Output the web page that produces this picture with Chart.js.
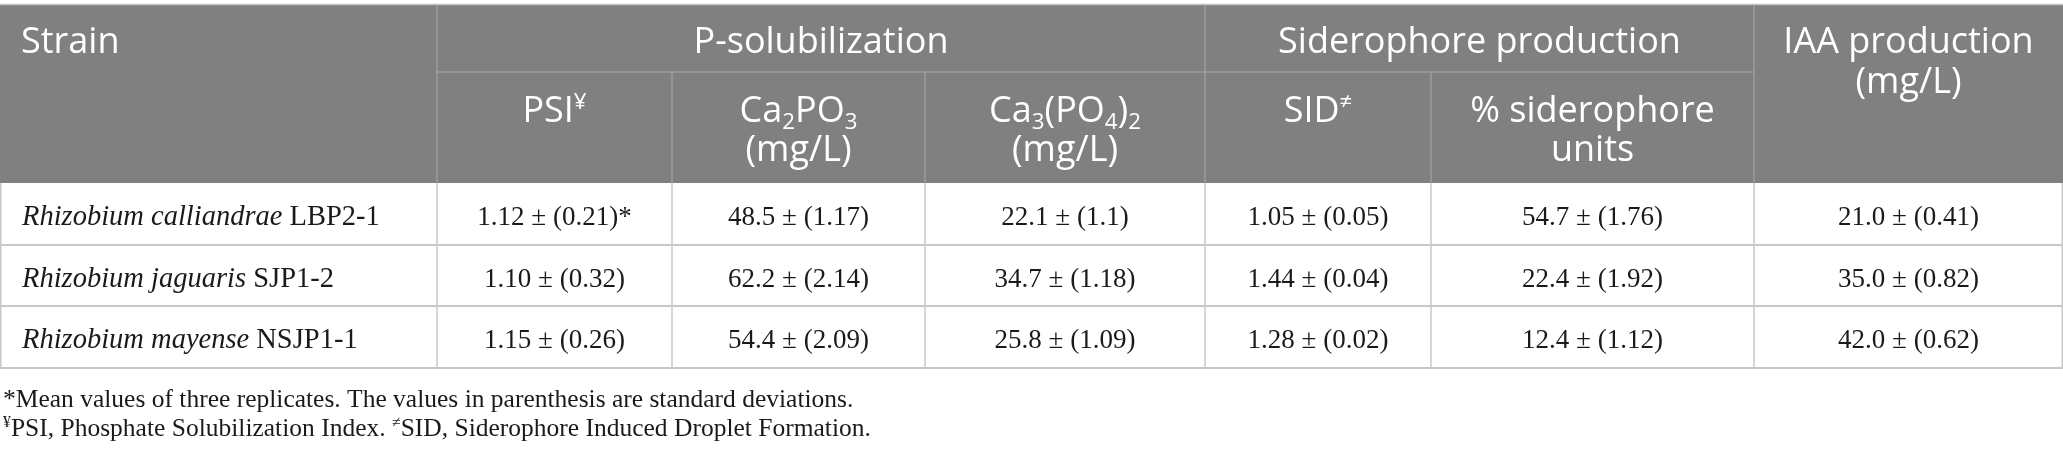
<!DOCTYPE html>
<html><head><meta charset="utf-8">
<script src="https://cdn.jsdelivr.net/npm/chart.js@4.4.1/dist/chart.umd.min.js"></script>
<style>html,body{margin:0;padding:0;background:#fff;overflow:hidden}#wrap{position:relative;width:2063px;height:457px}</style>
</head><body><div id="wrap"><canvas id="c"></canvas></div>
<script>
// ---------- data ----------
const strainGenus = ['Rhizobium calliandrae', 'Rhizobium jaguaris', 'Rhizobium mayense'];
const strainCode  = ['LBP2-1', 'SJP1-2', 'NSJP1-1'];
const psiMean   = [1.12, 1.10, 1.15];
const psiSd     = ['0.21', '0.32', '0.26'];
const ca2Mean   = [48.5, 62.2, 54.4];
const ca2Sd     = ['1.17', '2.14', '2.09'];
const ca3Mean   = [22.1, 34.7, 25.8];
const ca3Sd     = ['1.1', '1.18', '1.09'];
const sidMean   = [1.05, 1.44, 1.28];
const sidSd     = ['0.05', '0.04', '0.02'];
const pctMean   = [54.7, 22.4, 12.4];
const pctSd     = ['1.76', '1.92', '1.12'];
const iaaMean   = [21.0, 35.0, 42.0];
const iaaSd     = ['0.41', '0.82', '0.62'];
const groupLabels = ['Strain', 'P-solubilization', 'Siderophore production'];
const footnote1 = '*Mean values of three replicates. The values in parenthesis are standard deviations.';
const footnote2a = 'PSI, Phosphate Solubilization Index. ';
const footnote2b = 'SID, Siderophore Induced Droplet Formation.';

// ---------- layout (table units, mapped through chart scales) ----------
const W = 2063, H = 457;
const colEdges = [0, 437, 672, 925, 1205, 1431, 1754, 2063];
const hdrTop = 5, hdrMid = 72, hdrBot = 183;
const rowEdges = [183, 245, 306, 368];
const SANS = '"Open Sans", "Noto Sans", sans-serif';
const SERIF = '"Liberation Serif", "DejaVu Serif", serif';

function drawRich(ctx, segs, x, y, align, size, family, color) {
  const parts = segs.map(s => {
    const sz = s.s ? size * 0.62 : size;
    const font = (s.i ? 'italic ' : '') + sz + 'px ' + family;
    ctx.font = font;
    return { t: s.t, font, w: ctx.measureText(s.t).width, dy: s.s === 'sub' ? size * 0.2 : (s.s === 'sup' ? -size * 0.36 : 0) };
  });
  const total = parts.reduce((a, p) => a + p.w, 0);
  let cx = align === 'center' ? x - total / 2 : x;
  ctx.fillStyle = color;
  ctx.textAlign = 'left';
  ctx.textBaseline = 'alphabetic';
  for (const p of parts) { ctx.font = p.font; ctx.fillText(p.t, cx, y + p.dy); cx += p.w; }
}

const tablePlugin = {
  id: 'tableDraw',
  afterDraw(chart) {
    const ctx = chart.ctx, xs = chart.scales.x, ys = chart.scales.y;
    const X = v => xs.getPixelForValue(v), Y = v => ys.getPixelForValue(v);
    const mid = (a, b) => (X(colEdges[a]) + X(colEdges[b])) / 2;
    ctx.save();
    // header background
    ctx.fillStyle = '#808080';
    ctx.fillRect(X(0), Y(hdrTop), X(W) - X(0), Y(hdrBot) - Y(hdrTop));
    // top border
    ctx.strokeStyle = '#c4c4c4'; ctx.lineWidth = 1.5;
    ctx.beginPath(); ctx.moveTo(X(0), Y(4.5)); ctx.lineTo(X(W), Y(4.5)); ctx.stroke();
    // header lines
    const line = (x1, y1, x2, y2) => { ctx.beginPath(); ctx.moveTo(X(x1), Y(y1)); ctx.lineTo(X(x2), Y(y2)); ctx.stroke(); };
    ctx.strokeStyle = '#9b9b9b'; ctx.lineWidth = 1.5;
    [1, 4, 6].forEach(i => line(colEdges[i], hdrTop, colEdges[i], hdrBot));
    [2, 3, 5].forEach(i => line(colEdges[i], hdrMid, colEdges[i], hdrBot));
    line(colEdges[1], hdrMid, colEdges[6], hdrMid);
    // body lines
    ctx.strokeStyle = '#c8c8c8'; ctx.lineWidth = 1.5;
    colEdges.forEach((e, i) => {
      const xx = i === 0 ? 0.75 : (i === colEdges.length - 1 ? W - 0.75 : e);
      line(xx, rowEdges[0], xx, rowEdges[3]);
    });
    ctx.lineWidth = 2;
    rowEdges.slice(1).forEach(r => line(0, r, W, r));

    // header text
    const hs = 36, wc = '#ffffff';
    drawRich(ctx, [{ t: groupLabels[0] }], X(21), Y(53), 'left', hs, SANS, wc);
    drawRich(ctx, [{ t: groupLabels[1] }], mid(1, 4), Y(53), 'center', hs, SANS, wc);
    drawRich(ctx, [{ t: groupLabels[2] }], mid(4, 6), Y(53), 'center', hs, SANS, wc);
    drawRich(ctx, [{ t: 'IAA production' }], mid(6, 7), Y(53), 'center', hs, SANS, wc);
    drawRich(ctx, [{ t: '(mg/L)' }], mid(6, 7), Y(93), 'center', hs, SANS, wc);
    drawRich(ctx, [{ t: 'PSI' }, { t: '¥', s: 'sup' }], mid(1, 2), Y(122), 'center', hs, SANS, wc);
    drawRich(ctx, [{ t: 'Ca' }, { t: '2', s: 'sub' }, { t: 'PO' }, { t: '3', s: 'sub' }], mid(2, 3), Y(122), 'center', hs, SANS, wc);
    drawRich(ctx, [{ t: '(mg/L)' }], mid(2, 3), Y(161), 'center', hs, SANS, wc);
    drawRich(ctx, [{ t: 'Ca' }, { t: '3', s: 'sub' }, { t: '(PO' }, { t: '4', s: 'sub' }, { t: ')' }, { t: '2', s: 'sub' }], mid(3, 4), Y(122), 'center', hs, SANS, wc);
    drawRich(ctx, [{ t: '(mg/L)' }], mid(3, 4), Y(161), 'center', hs, SANS, wc);
    drawRich(ctx, [{ t: 'SID' }, { t: '≠', s: 'sup' }], mid(4, 5), Y(122), 'center', hs, SANS, wc);
    drawRich(ctx, [{ t: '% siderophore' }], mid(5, 6), Y(122), 'center', hs, SANS, wc);
    drawRich(ctx, [{ t: 'units' }], mid(5, 6), Y(161), 'center', hs, SANS, wc);

    // body text
    const bs = 27, ns = 28.5, bc = '#1a1a1a';
    const cols = [[psiMean, psiSd, 2], [ca2Mean, ca2Sd, 1], [ca3Mean, ca3Sd, 1], [sidMean, sidSd, 2], [pctMean, pctSd, 1], [iaaMean, iaaSd, 1]];
    for (let r = 0; r < strainGenus.length; r++) {
      const by = Y((rowEdges[r] + rowEdges[r + 1]) / 2 + 11);
      drawRich(ctx, [{ t: strainGenus[r] + ' ', i: true }, { t: strainCode[r] }], X(22), by, 'left', ns, SERIF, bc);
      cols.forEach((c, k) => {
        let s = c[0][r].toFixed(c[2]) + ' ± (' + c[1][r] + ')';
        if (k === 0 && r === 0) s += '*';
        drawRich(ctx, [{ t: s }], mid(k + 1, k + 2), by, 'center', bs, SERIF, bc);
      });
    }
    // footnotes
    const fs = 25.5;
    drawRich(ctx, [{ t: footnote1 }], X(3), Y(407), 'left', fs, SERIF, bc);
    drawRich(ctx, [{ t: '¥', s: 'sup' }, { t: footnote2a }, { t: '≠', s: 'sup' }, { t: footnote2b }], X(3), Y(436), 'left', fs, SERIF, bc);
    ctx.restore();
  }
};

new Chart(document.getElementById('c'), {
  type: 'scatter',
  data: { datasets: [{ label: 'cells', data: [], pointRadius: 0 }] },
  options: {
    responsive: true, maintainAspectRatio: false, animation: false,
    layout: { padding: 0 },
    plugins: { legend: { display: false }, tooltip: { enabled: false } },
    scales: {
      x: { type: 'linear', min: 0, max: W, display: false },
      y: { type: 'linear', min: 0, max: H, reverse: true, display: false }
    }
  },
  plugins: [tablePlugin]
});
</script></body></html>
